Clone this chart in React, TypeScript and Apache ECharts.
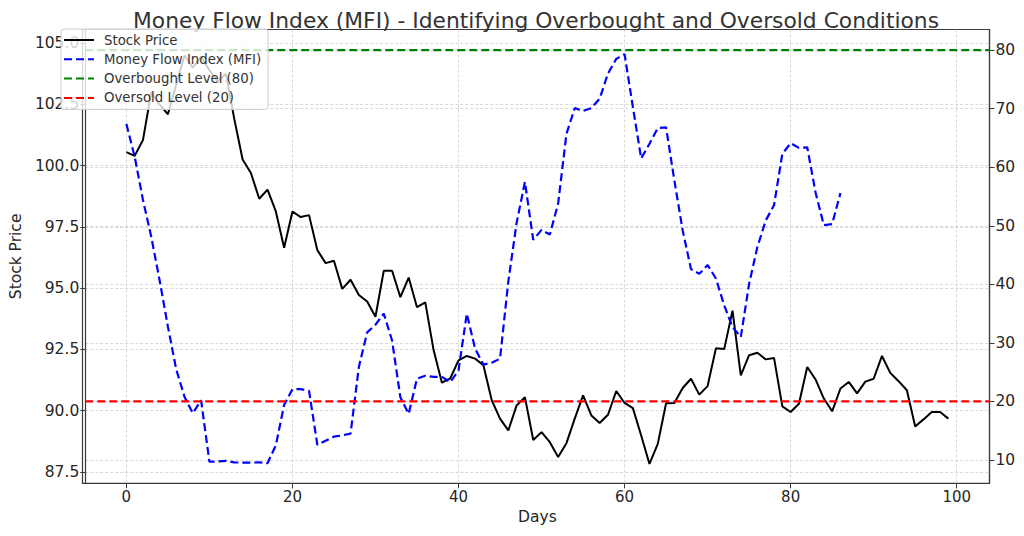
import React, { useEffect, useRef } from "react";
import * as echarts from "echarts";

const days: number[] = Array.from({ length: 100 }, (_, i) => i);

const stockPrice: number[] = [
  100.55, 100.4, 101.05, 103.0, 102.5, 102.1, 103.3, 104.5, 104.0, 104.45,
  103.9, 103.45, 103.75, 101.9, 100.25, 99.7, 98.65, 99.02, 98.13, 96.65,
  98.13, 97.9, 97.98, 96.55, 96.02, 96.12, 94.97, 95.34, 94.72, 94.45,
  93.83, 95.71, 95.71, 94.63, 95.43, 94.22, 94.42, 92.47, 91.14, 91.31,
  92.05, 92.23, 92.12, 91.85, 90.42, 89.67, 89.19, 90.21, 90.55, 88.8,
  89.12, 88.71, 88.1, 88.67, 89.67, 90.62, 89.8, 89.49, 89.83, 90.8,
  90.31, 90.1, 88.98, 87.82, 88.64, 90.3, 90.31, 90.92, 91.3, 90.65,
  91.0, 92.54, 92.51, 94.08, 91.44, 92.26, 92.36, 92.09, 92.15, 90.17,
  89.94, 90.28, 91.78, 91.27, 90.49, 89.97, 90.9, 91.17, 90.7, 91.18,
  91.3, 92.23, 91.54, 91.2, 90.83, 89.35, 89.64, 89.94, 89.94, 89.67,
];

const mfi: number[] = [
  67.4, 61.8, 54.4, 48.1, 40.7, 32.8, 25.5, 20.8, 18.0, 20.2,
  9.7, 9.75, 9.85, 9.6, 9.55, 9.55, 9.6, 9.45, 12.5, 19.4,
  22.1, 22.1, 21.8, 12.6, 13.3, 14.0, 14.2, 14.5, 25.9, 31.8,
  33.1, 35.0, 30.4, 20.7, 17.9, 23.9, 24.4, 24.2, 24.2, 23.3,
  25.3, 35.0, 29.0, 26.3, 26.6, 27.3, 40.5, 50.5, 57.5, 47.6,
  49.3, 48.5, 53.8, 65.7, 70.1, 69.6, 70.1, 71.7, 76.0, 78.5,
  79.3, 70.3, 61.5, 64.0, 66.7, 66.8, 57.7, 49.2, 42.6, 41.8,
  43.3, 41.0, 36.4, 32.7, 31.0, 40.1, 46.4, 50.9, 53.5, 62.3,
  64.1, 63.3, 63.4, 55.7, 50.1, 50.3, 55.6,
];

const overboughtLevel = 80;
const oversoldLevel = 20;

const xTicks: number[] = [0, 20, 40, 60, 80, 100];
const priceTicks: number[] = [87.5, 90.0, 92.5, 95.0, 97.5, 100.0, 102.5, 105.0];
const mfiTicks: number[] = [10, 20, 30, 40, 50, 60, 70, 80];

const X_MIN = -4.95;
const X_MAX = 103.95;
const PRICE_MIN = 87.03;
const PRICE_MAX = 105.56;
const MFI_MIN = 6.02;
const MFI_MAX = 83.52;

const FONT = "DejaVu Sans";
const TEXT = "#262626";
const SPINE = "#3a3a3a";

export default function App() {
  const ref = useRef<HTMLDivElement>(null);

  useEffect(() => {
    if (!ref.current) return;
    const chart = echarts.init(ref.current, undefined, { renderer: "svg" });

    const gridLeft = 82.5;
    const gridRight = 34.5;
    const gridTop = 29.5;
    const gridBottom = 52.7;

    const splitLine = {
      show: true,
      lineStyle: { color: "#cfcfcf", width: 0.8, type: [3, 2] as any },
    };

    const option: any = {
      animation: false,
      backgroundColor: "#ffffff",
      textStyle: { fontFamily: FONT },
      title: {
        text: "Money Flow Index (MFI) - Identifying Overbought and Oversold Conditions",
        left: 531,
        textAlign: "center",
        top: 4,
        textStyle: {
          fontFamily: FONT,
          fontSize: 21.8,
          fontWeight: "normal",
          color: "#333333",
        },
      },
      legend: {
        orient: "vertical",
        left: 61,
        top: 29,
        padding: [4.5, 7, 5, 2],
        itemWidth: 30,
        itemHeight: 14,
        itemGap: 6.3,
        backgroundColor: "rgba(255,255,255,0.8)",
        borderColor: "#cccccc",
        borderWidth: 1,
        borderRadius: 3,
        z: 10,
        itemStyle: { opacity: 0, borderWidth: 0 },
        textStyle: {
          fontFamily: FONT,
          fontSize: 13.3,
          color: "#333333",
          padding: [0, 0, 0, 5],
        },
        data: [
          "Stock Price",
          "Money Flow Index (MFI)",
          "Overbought Level (80)",
          "Oversold Level (20)",
        ],
      },
      grid: {
        left: gridLeft,
        right: gridRight,
        top: gridTop,
        bottom: gridBottom,
        containLabel: false,
      },
      xAxis: {
        type: "value",
        min: X_MIN,
        max: X_MAX,
        name: "Days",
        nameLocation: "middle",
        nameGap: 25,
        nameTextStyle: { fontFamily: FONT, fontSize: 15.5, color: TEXT },
        axisLine: { show: true, onZero: false, lineStyle: { color: SPINE, width: 1.2 } },
        axisTick: {
          show: true,
          length: 5,
          customValues: xTicks,
          lineStyle: { color: SPINE, width: 1 },
        },
        axisLabel: {
          customValues: xTicks,
          margin: 6,
          fontFamily: FONT,
          fontSize: 15,
          color: TEXT,
        },
        splitLine,
      },
      yAxis: [
        {
          type: "value",
          position: "left",
          min: PRICE_MIN,
          max: PRICE_MAX,
          name: "Stock Price",
          nameLocation: "middle",
          nameGap: 58,
          nameRotate: 90,
          nameTextStyle: { fontFamily: FONT, fontSize: 15.5, color: TEXT },
          axisLine: { show: true, onZero: false, lineStyle: { color: SPINE, width: 1.2 } },
          axisTick: {
            show: true,
            length: 5,
            customValues: priceTicks,
            lineStyle: { color: SPINE, width: 1 },
          },
          axisLabel: {
            customValues: priceTicks,
            margin: 6,
            fontFamily: FONT,
            fontSize: 15.5,
            color: TEXT,
            formatter: (v: number) => v.toFixed(1),
          },
          splitLine,
        },
        {
          type: "value",
          position: "right",
          min: MFI_MIN,
          max: MFI_MAX,
          axisLine: { show: true, onZero: false, lineStyle: { color: SPINE, width: 1.2 } },
          axisTick: {
            show: true,
            length: 5,
            customValues: mfiTicks,
            lineStyle: { color: SPINE, width: 1 },
          },
          axisLabel: {
            customValues: mfiTicks,
            margin: 6,
            fontFamily: FONT,
            fontSize: 15.5,
            color: TEXT,
          },
          splitLine,
        },
      ],
      graphic: [
        {
          type: "rect",
          silent: true,
          z: 0,
          shape: {
            x: gridLeft,
            y: gridTop,
            width: 1024 - gridLeft - gridRight,
            height: 536 - gridTop - gridBottom,
          },
          style: { fill: "none", stroke: SPINE, lineWidth: 1.2 },
        },
      ],
      series: [
        {
          name: "Stock Price",
          type: "line",
          xAxisIndex: 0,
          yAxisIndex: 0,
          data: days.map((d, i) => [d, stockPrice[i]]),
          showSymbol: false,
          symbol: "none",
          lineStyle: { color: "#000000", width: 2 },
          itemStyle: { color: "#000000" },
          z: 2,
        },
        {
          name: "Money Flow Index (MFI)",
          type: "line",
          xAxisIndex: 0,
          yAxisIndex: 1,
          data: mfi.map((v, i) => [days[i], v]),
          showSymbol: false,
          symbol: "none",
          lineStyle: { color: "#0000ff", width: 2.2, type: [8, 4] },
          itemStyle: { color: "#0000ff" },
          z: 3,
        },
        {
          name: "Overbought Level (80)",
          type: "line",
          xAxisIndex: 0,
          yAxisIndex: 1,
          data: [
            [X_MIN, overboughtLevel],
            [X_MAX, overboughtLevel],
          ],
          showSymbol: false,
          symbol: "none",
          lineStyle: { color: "#008000", width: 2.2, type: [8, 4] },
          itemStyle: { color: "#008000" },
          z: 3,
        },
        {
          name: "Oversold Level (20)",
          type: "line",
          xAxisIndex: 0,
          yAxisIndex: 1,
          data: [
            [X_MIN, oversoldLevel],
            [X_MAX, oversoldLevel],
          ],
          showSymbol: false,
          symbol: "none",
          lineStyle: { color: "#ff0000", width: 2.2, type: [8, 4] },
          itemStyle: { color: "#ff0000" },
          z: 3,
        },
      ],
    };

    chart.setOption(option);
    return () => chart.dispose();
  }, []);

  return (
    <div
      ref={ref}
      style={{ position: "absolute", left: 0, top: 0, width: 1024, height: 536 }}
    />
  );
}
